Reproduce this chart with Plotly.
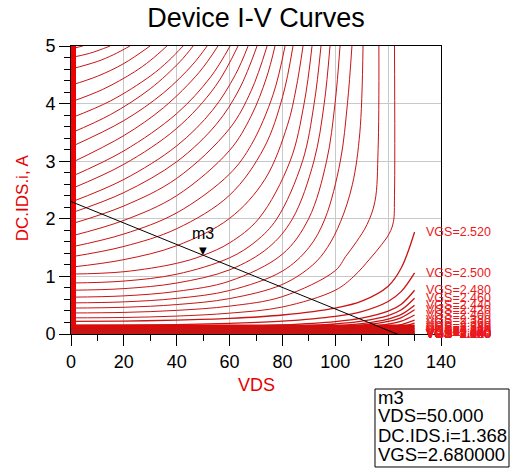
import plotly.graph_objects as go

# ---------------- data ----------------
title_text = "Device I-V Curves"
x_title = "VDS"
y_title = "DC.IDS.i, A"

# curves that leave the top of the frame (VGS 2.54 ... 3.04)
hi_vgs = [2.54, 2.56, 2.58, 2.60, 2.62, 2.64, 2.66, 2.68, 2.70, 2.72, 2.74, 2.76, 2.78,
          2.80, 2.82, 2.84, 2.86, 2.88, 2.90, 2.92, 2.94, 2.96, 2.98, 3.00, 3.02, 3.04]
hi_vds = [
    [0, 20, 40, 60, 80, 100, 107, 113, 117.5, 120.5, 122, 122.4, 122.4],
    [0, 20, 40, 60, 80, 100, 104, 108, 112, 115, 116.2, 116.5],
    [0, 20, 40, 60, 80, 91.5, 97, 102, 106.5, 109.3, 110.5],
    [0, 20, 40, 60, 80, 90, 96.1, 101.9, 104.6, 106.3],
    [0, 20, 40, 60, 80, 89.9, 96.7, 99.9, 101.8],
    [0, 20, 40, 60, 74.7, 83.8, 91.9, 95.8, 98.0],
    [0, 20, 40, 60, 70, 77.9, 87.6, 92.0, 94.6],
    [0, 20, 40, 50, 60, 71, 82.9, 88.2, 91.2],
    [0, 20, 40, 60, 73.4, 81.9, 85.2, 87.8],
    [0, 20, 40, 60, 73, 80.1, 84],
    [0, 20, 40, 60, 68.3, 76.5, 81],
    [0, 20, 40, 60, 68.1, 73.9, 77.2],
    [0, 20, 40, 60, 68.2, 74.2],
    [0, 20, 40, 55, 63.7, 70.4],
    [0, 20, 40, 53.5, 62.2, 67],
    [0, 20, 40, 54.6, 63.2],
    [0, 20, 40, 52.8, 60.2],
    [0, 20, 35, 48.5, 55.6],
    [0, 20, 35, 45.9, 51.5],
    [0, 15, 30, 41.3, 46.2],
    [0, 15, 30, 37, 42.4],
    [0, 12, 24, 30, 36.3],
    [0, 10, 20, 29.9],
    [0, 10, 16, 22.3],
    [0, 7, 14.8],
    [0, 4.5],
]
hi_ids = [
    [0.28, 0.287, 0.311, 0.362, 0.469, 0.76, 1.0, 1.3, 1.55, 1.75, 1.95, 2.4, 5.0],
    [0.365, 0.375, 0.41, 0.484, 0.649, 1.1, 1.35, 1.6, 1.9, 2.3, 3.2, 5.0],
    [0.45, 0.464, 0.511, 0.615, 0.861, 1.2, 1.5, 1.95, 2.6, 3.5, 5.0],
    [0.54, 0.558, 0.618, 0.755, 1.092, 1.5, 2.0, 3.0, 4.0, 5.0],
    [0.64, 0.662, 0.74, 0.918, 1.387, 2.0, 3.0, 4.0, 5.0],
    [0.76, 0.788, 0.885, 1.114, 1.5, 2.0, 3.0, 4.0, 5.0],
    [0.885, 0.919, 1.038, 1.323, 1.61, 2.0, 3.0, 4.0, 5.0],
    [1.04, 1.081, 1.227, 1.365, 1.582, 2.0, 3.0, 4.0, 5.0],
    [1.16, 1.291, 1.533, 2.007, 2.687, 3.624, 4.269, 5.0],
    [1.34, 1.52, 1.828, 2.41, 3.228, 4.125, 5.0],
    [1.51, 1.736, 2.103, 2.778, 3.291, 4.161, 5.0],
    [1.7, 1.973, 2.402, 3.187, 3.778, 4.44, 5.0],
    [1.91, 2.223, 2.702, 3.566, 4.225, 5.0],
    [2.1, 2.455, 2.991, 3.642, 4.253, 5.0],
    [2.29, 2.683, 3.266, 3.882, 4.502, 5.0],
    [2.52, 2.946, 3.57, 4.298, 5.0],
    [2.73, 3.179, 3.827, 4.46, 5.0],
    [2.97, 3.445, 3.929, 4.543, 5.0],
    [3.25, 3.705, 4.186, 4.671, 5.0],
    [3.49, 3.811, 4.258, 4.732, 5.0],
    [3.75, 4.048, 4.478, 4.747, 5.0],
    [4.03, 4.246, 4.551, 4.748, 5.0],
    [4.32, 4.475, 4.696, 5.0],
    [4.6, 4.732, 4.847, 5.0],
    [4.8, 4.872, 5.0],
    [4.95, 5.0],
]

# curves still inside the frame at VDS = 130 (these carry the VGS labels)
low_vgs = [2.52, 2.50, 2.48, 2.46, 2.44, 2.42, 2.40, 2.38, 2.36, 2.34, 2.32, 2.30,
           2.28, 2.26, 2.24, 2.22, 2.20]
low_vds = [0, 20, 40, 60, 80, 100, 110, 120, 125, 130]
low_ids = [
    [0.22, 0.225, 0.24, 0.27, 0.33, 0.45, 0.57, 0.83, 1.15, 1.77],
    [0.15, 0.153, 0.163, 0.184, 0.223, 0.306, 0.39, 0.565, 0.74, 1.06],
    [0.105, 0.107, 0.114, 0.129, 0.156, 0.214, 0.274, 0.396, 0.518, 0.76],
    [0.085, 0.087, 0.093, 0.104, 0.126, 0.174, 0.222, 0.32, 0.42, 0.62],
    [0.069, 0.07, 0.075, 0.085, 0.102, 0.141, 0.18, 0.26, 0.34, 0.50],
    [0.058, 0.059, 0.063, 0.071, 0.086, 0.118, 0.152, 0.219, 0.286, 0.42],
    [0.045, 0.046, 0.049, 0.055, 0.067, 0.092, 0.118, 0.17, 0.222, 0.33],
    [0.033, 0.034, 0.036, 0.04, 0.049, 0.067, 0.086, 0.124, 0.163, 0.24],
    [0.026, 0.027, 0.028, 0.032, 0.039, 0.053, 0.068, 0.098, 0.128, 0.19],
    [0.019, 0.019, 0.021, 0.023, 0.028, 0.039, 0.05, 0.072, 0.094, 0.14],
    [0.014, 0.014, 0.015, 0.017, 0.021, 0.029, 0.037, 0.053, 0.069, 0.10],
    [0.01, 0.01, 0.011, 0.012, 0.015, 0.02, 0.026, 0.038, 0.049, 0.07],
    [0.007, 0.007, 0.008, 0.009, 0.01, 0.014, 0.018, 0.026, 0.035, 0.05],
    [0.004, 0.004, 0.004, 0.005, 0.006, 0.008, 0.01, 0.015, 0.02, 0.03],
    [0.002, 0.002, 0.002, 0.002, 0.003, 0.004, 0.005, 0.008, 0.01, 0.015],
    [0.001, 0.001, 0.001, 0.001, 0.001, 0.002, 0.002, 0.004, 0.005, 0.007],
    [0.0, 0.0, 0.0, 0.0, 0.0, 0.0, 0.001, 0.001, 0.002, 0.003],
]

# curves that stay at ~0 A over the whole sweep
floor_vgs = [2.18, 2.16, 2.14, 2.12, 2.10, 2.08, 2.06, 2.04, 2.02, 2.00]
floor_vds = [0, 130]
floor_ids = [0.0, 0.0]

# curves that already start above 5 A (only their rise at VDS ~ 0 is visible)
steep_vgs = [3.06, 3.08]
steep_ids0 = [5.3, 5.6]

# load line and marker m3
load_vds = [0, 126]
load_ids = [2.30, -0.05]
marker_name = "m3"
marker_vds = 50.0
marker_ids = 1.368
marker_vgs = 2.68

# ---------------- styling ----------------
RED = "rgb(200,20,20)"
BAND_RED = "rgb(240,0,0)"
LABEL_RED = "rgb(235,25,25)"
AXIS_RED = "rgb(230,0,0)"
FONT = "Liberation Sans, Arial, sans-serif"

fig = go.Figure()

# vertical rise of every curve at VDS ~ 0
rise_x, rise_y = [], []
for ids in hi_ids + low_ids:
    rise_x += [0, 0, None]
    rise_y += [0, ids[0], None]
for i0 in steep_ids0:
    rise_x += [0, 0, None]
    rise_y += [0, i0, None]
fig.add_trace(go.Scatter(x=rise_x, y=rise_y, mode="lines",
                         line=dict(color=BAND_RED, width=10), hoverinfo="skip"))

# floor curves (thick band at the bottom)
fig.add_trace(go.Scatter(x=floor_vds, y=floor_ids, mode="lines",
                         line=dict(color=BAND_RED, width=19), hoverinfo="skip"))

for vgs, ids in zip(low_vgs, low_ids):
    fig.add_trace(go.Scatter(x=low_vds, y=ids, mode="lines", name=f"VGS={vgs:.3f}",
                             line=dict(color=RED, width=1.3, shape="spline")))

for vgs, vds, ids in zip(hi_vgs, hi_vds, hi_ids):
    fig.add_trace(go.Scatter(x=vds, y=ids, mode="lines", name=f"VGS={vgs:.3f}",
                             line=dict(color=RED, width=1, shape="spline")))

fig.add_trace(go.Scatter(x=load_vds, y=load_ids, mode="lines",
                         line=dict(color="black", width=1), hoverinfo="skip"))

annotations = []
for vgs, ids in zip(low_vgs, low_ids):
    annotations.append(dict(x=low_vds[-1], y=ids[-1], xref="x", yref="y",
                            text=f"VGS={vgs:.3f}", showarrow=False, xanchor="left",
                            yanchor="middle", xshift=9,
                            font=dict(size=12.5, color=LABEL_RED, family=FONT)))
for vgs in floor_vgs:
    annotations.append(dict(x=floor_vds[-1], y=floor_ids[-1], xref="x", yref="y",
                            text=f"VGS={vgs:.3f}", showarrow=False, xanchor="left",
                            yanchor="middle", xshift=9,
                            font=dict(size=12.5, color=LABEL_RED, family=FONT)))

# marker
annotations.append(dict(x=marker_vds, y=marker_ids, xref="x", yref="y", text="▼",
                        showarrow=False, xanchor="center", yanchor="bottom", yshift=-3,
                        font=dict(size=10, color="black", family="DejaVu Sans")))
annotations.append(dict(x=marker_vds, y=marker_ids, xref="x", yref="y", text=marker_name,
                        showarrow=False, xanchor="center", yanchor="bottom", yshift=11,
                        font=dict(size=16, color="black", family=FONT)))

# axis titles
annotations.append(dict(x=0.5, y=-0.177, xref="paper", yref="paper", text=x_title,
                        showarrow=False, xanchor="center", yanchor="middle",
                        font=dict(size=18, color=AXIS_RED, family=FONT)))
annotations.append(dict(x=-0.132, y=0.472, xref="paper", yref="paper", text=y_title,
                        textangle=-90, showarrow=False, xanchor="center", yanchor="middle",
                        font=dict(size=17, color=AXIS_RED, family=FONT)))

# marker read-out box
box_lines = [marker_name, f"VDS={marker_vds:.3f}", f"DC.IDS.i={marker_ids:.3f}",
             f"VGS={marker_vgs:.6f}"]
box_y = [-0.2222, -0.2847, -0.3507, -0.4201]
for txt, yy in zip(box_lines, box_y):
    annotations.append(dict(x=0.824, y=yy, xref="paper", yref="paper", text=txt,
                            showarrow=False, xanchor="left", yanchor="middle",
                            font=dict(size=18.5, color="black", family=FONT)))

fig.update_layout(
    width=510, height=469,
    margin=dict(l=71, r=69, t=46, b=135),
    paper_bgcolor="white", plot_bgcolor="white",
    showlegend=False,
    title=dict(text=title_text, x=0.5, xref="paper", y=1 - 17.5 / 469, yref="container",
               xanchor="center", yanchor="middle",
               font=dict(size=27, color="black", family=FONT)),
    annotations=annotations,
    shapes=[dict(type="rect", xref="paper", yref="paper", x0=0.8216, x1=1.1838,
                 y0=-0.4618, y1=-0.191, line=dict(color="black", width=1))],
)
fig.update_xaxes(range=[0, 140], dtick=20, tick0=0, ticks="outside", ticklen=11,
                 tickcolor="black", showline=True, linecolor="black", mirror=True,
                 showgrid=True, gridcolor="rgb(200,200,200)", zeroline=False,
                 layer="below traces",
                 tickfont=dict(size=18, color="black", family=FONT),
                 minor=dict(dtick=10, ticklen=6, tickcolor="black", ticks="outside",
                            showgrid=False))
fig.update_yaxes(range=[0, 5], dtick=1, tick0=0, ticks="outside", ticklen=11,
                 tickcolor="black", showline=True, linecolor="black", mirror=True,
                 showgrid=True, gridcolor="rgb(200,200,200)", zeroline=False,
                 layer="below traces",
                 tickfont=dict(size=18, color="black", family=FONT),
                 minor=dict(dtick=0.2, ticklen=6, tickcolor="black", ticks="outside",
                            showgrid=False))

fig.write_html("out.html", config={"displayModeBar": False},
               post_script="document.body.style.margin='0px';")
